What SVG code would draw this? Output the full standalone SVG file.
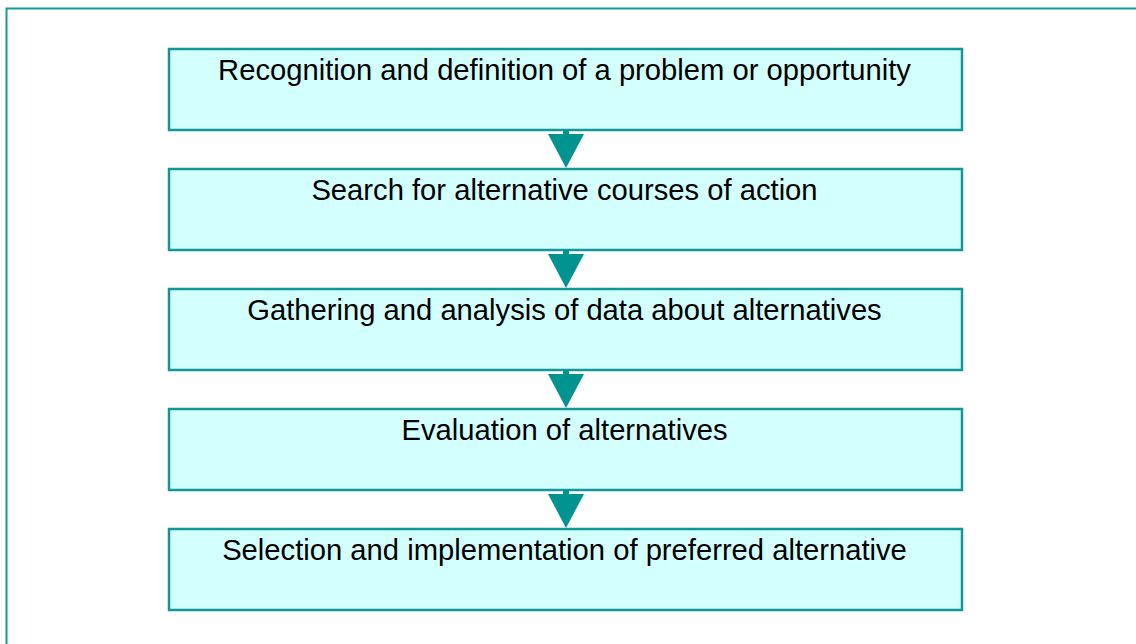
<svg xmlns="http://www.w3.org/2000/svg" width="1136" height="644" viewBox="0 0 1136 644">
  <style>
    .box { fill: #d4ffff; stroke: #129896; stroke-width: 2.5; }
    .label { font-family: "Liberation Sans", Arial, sans-serif; font-size: 29.2px; fill: #000; text-anchor: middle; }
    .arrow { fill: #009490; }
  </style>
  <defs>
    <!-- downward arrow: short stem plus a solid triangle head -->
    <g id="down-arrow">
      <rect class="arrow" x="-3" y="0" width="6" height="5"/>
      <polygon class="arrow" points="-18,4 18,4 0,38"/>
    </g>
  </defs>
  <rect width="1136" height="644" fill="#ffffff"/>
  <!-- outer frame -->
  <rect x="6.5" y="8.5" width="1140" height="650" fill="none" stroke="#169a98" stroke-width="2"/>

  <g id="n1">
    <rect class="box" x="169" y="49" width="793" height="81"/>
    <text class="label" x="564.5" y="80">Recognition and definition of a problem or opportunity</text>
  </g>
  <g id="n2">
    <rect class="box" x="169" y="169" width="793" height="81"/>
    <text class="label" x="564.5" y="200">Search for alternative courses of action</text>
  </g>
  <g id="n3">
    <rect class="box" x="169" y="289" width="793" height="81"/>
    <text class="label" x="564.5" y="320">Gathering and analysis of data about alternatives</text>
  </g>
  <g id="n4">
    <rect class="box" x="169" y="409" width="793" height="81"/>
    <text class="label" x="564.5" y="440">Evaluation of alternatives</text>
  </g>
  <g id="n5">
    <rect class="box" x="169" y="529" width="793" height="81"/>
    <text class="label" x="564.5" y="560">Selection and implementation of preferred alternative</text>
  </g>

  <g id="connectors">
    <use href="#down-arrow" x="566" y="130"/>
    <use href="#down-arrow" x="566" y="250"/>
    <use href="#down-arrow" x="566" y="370"/>
    <use href="#down-arrow" x="566" y="490"/>
  </g>
</svg>
